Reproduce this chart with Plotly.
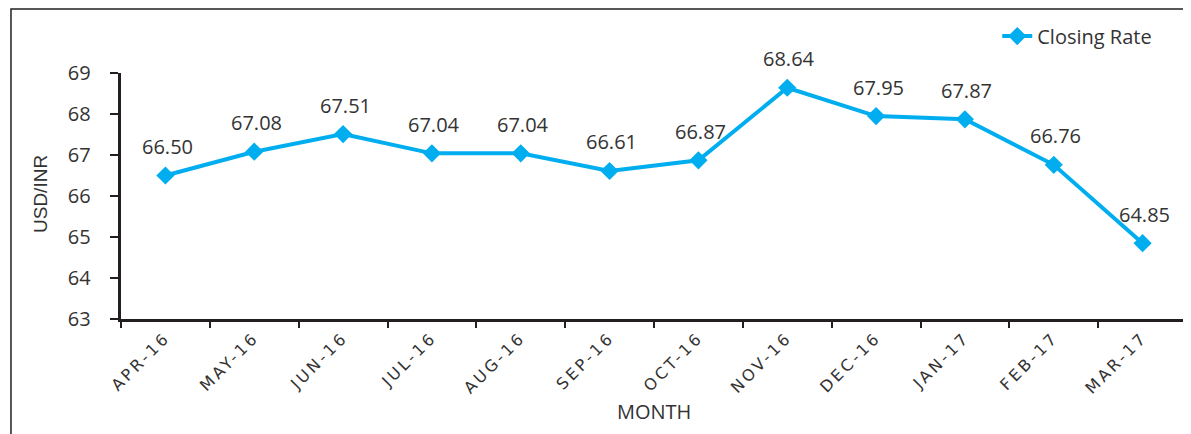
import plotly.graph_objects as go

months = ["APR-16", "MAY-16", "JUN-16", "JUL-16", "AUG-16", "SEP-16",
          "OCT-16", "NOV-16", "DEC-16", "JAN-17", "FEB-17", "MAR-17"]
closing_rate = [66.50, 67.08, 67.51, 67.04, 67.04, 66.61,
                66.87, 68.64, 67.95, 67.87, 66.76, 64.85]
y_ticks = [63, 64, 65, 66, 67, 68, 69]

blue = "#00AEEF"
dark = "#231F20"
txt = "#333333"
wide_font = "DejaVu Sans, Verdana, sans-serif"
label_font = "Open Sans, sans-serif"

fig = go.Figure()
fig.add_trace(go.Scatter(
    x=months, y=closing_rate, name="Closing Rate",
    mode="lines+markers",
    line=dict(color=blue, width=4),
    marker=dict(symbol="diamond", size=14, color=blue),
    cliponaxis=False,
))

annotations = []
for m, v in zip(months, closing_rate):
    annotations.append(dict(
        x=m, y=v, xref="x", yref="y", text=f"{v:.2f}", showarrow=False,
        yshift=29, xshift=2, yanchor="middle", xanchor="center",
        font=dict(size=20, color=txt, family=label_font),
    ))
annotations.append(dict(
    x=0.5, y=-0.374, xref="paper", yref="paper", text="MONTH", showarrow=False,
    xanchor="center", yanchor="middle",
    font=dict(size=20, color=txt, family=label_font),
))
annotations.append(dict(
    x=-0.076, y=0.508, xref="paper", yref="paper", text="USD/INR", showarrow=False,
    xanchor="center", yanchor="middle", textangle=-90,
    font=dict(size=19, color=txt, family="Liberation Sans Narrow, Arial Narrow, sans-serif"),
))

fig.update_layout(
    width=1183, height=426,
    margin=dict(l=113, r=4, t=65, b=115),
    paper_bgcolor="white", plot_bgcolor="white",
    showlegend=True,
    legend=dict(x=0.822, y=1.150, xanchor="left", yanchor="middle",
                font=dict(size=20, color=txt, family=label_font),
                bgcolor="rgba(0,0,0,0)"),
    xaxis=dict(
        type="category", showgrid=False, showline=True, linecolor=dark, linewidth=2.5,
        ticks="outside", ticklen=6, tickcolor=dark, tickwidth=2, tickson="boundaries",
        tickangle=-45, tickfont=dict(size=16, color=txt, family=wide_font),
        range=[-0.5, 11.5], automargin=False,
    ),
    yaxis=dict(
        range=[63, 69], tickvals=y_ticks,
        ticktext=[f"{t}" + "\u00a0" * 3 for t in y_ticks],
        showgrid=False, zeroline=False,
        showline=True, linecolor=dark, linewidth=2.5,
        ticks="outside", ticklen=8, tickcolor=dark, tickwidth=2,
        tickfont=dict(size=20, color=txt, family=label_font),
        automargin=False,
    ),
    annotations=annotations,
    shapes=[dict(type="rect", xref="paper", yref="paper",
                 x0=-0.1032, x1=1.01, y0=-0.6, y1=1.260,
                 line=dict(color=dark, width=1.5), layer="below")],
)

post = ("var gd=document.getElementById('{plot_id}');"
        "function sp(){gd.querySelectorAll('.xtick text').forEach(function(t){t.style.letterSpacing='3px';});}"
        "sp();gd.on('plotly_afterplot',sp);")

fig.write_html("out.html", post_script=post)
